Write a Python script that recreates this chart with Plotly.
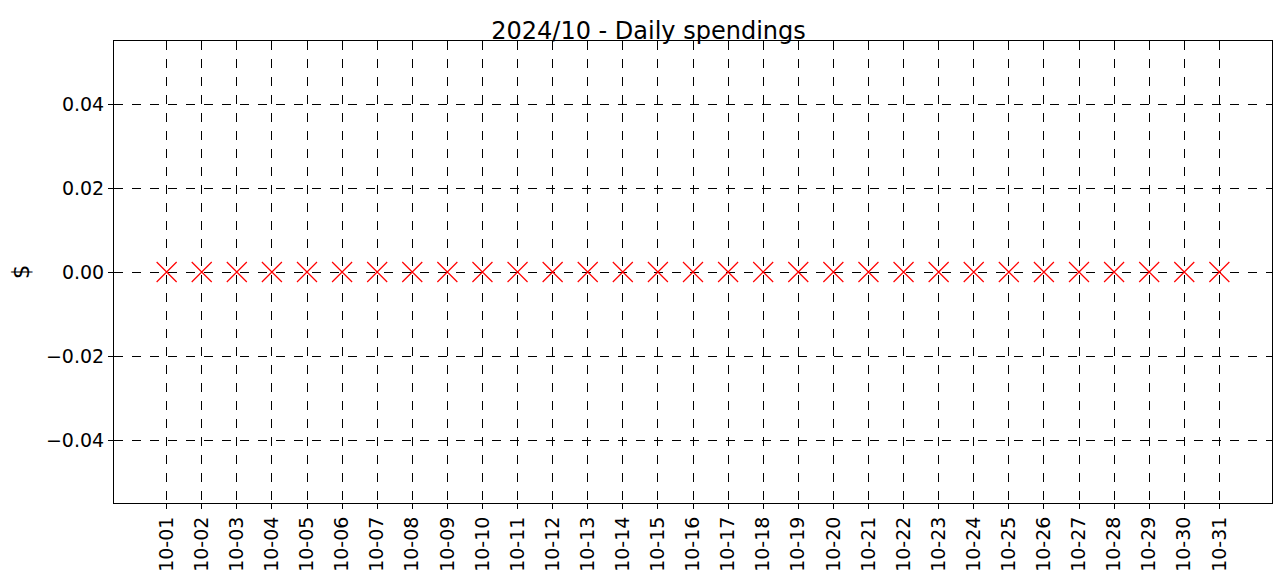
import plotly.graph_objects as go

days = ["10-%02d" % d for d in range(1, 32)]
spend = [0.0] * 31
ytick_vals = [-0.04, -0.02, 0.0, 0.02, 0.04]
ytick_text = ["\u22120.04", "\u22120.02", "0.00", "0.02", "0.04"]

fig = go.Figure()
fig.add_trace(go.Scatter(
    x=list(range(len(days))), y=spend, mode="markers",
    marker=dict(symbol="x-thin-open", size=20, color="red", line=dict(color="red", width=1.2)),
))

grid = dict(showgrid=True, gridcolor="black", griddash="dash", gridwidth=1,
            showline=True, linecolor="black", mirror=True, zeroline=False,
            ticks="outside", ticklen=5, tickcolor="black")
fig.update_xaxes(range=[-1.5, 31.5], tickvals=list(range(len(days))), ticktext=days,
                 tickangle=-90, **grid)
fig.update_yaxes(range=[-0.055, 0.055], tickvals=ytick_vals, ticktext=ytick_text,
                 title=dict(text="$", standoff=10), **grid)
fig.update_layout(
    width=1281, height=582, margin=dict(l=102, r=17, t=33, b=87),
    plot_bgcolor="white", paper_bgcolor="white", showlegend=False,
    font=dict(family="DejaVu Sans", size=19, color="black"),
    title=dict(text="2024/10 - Daily spendings", x=0.5, xanchor="center", y=0.975,
               font=dict(size=24)),
)
fig.write_html("out.html")
